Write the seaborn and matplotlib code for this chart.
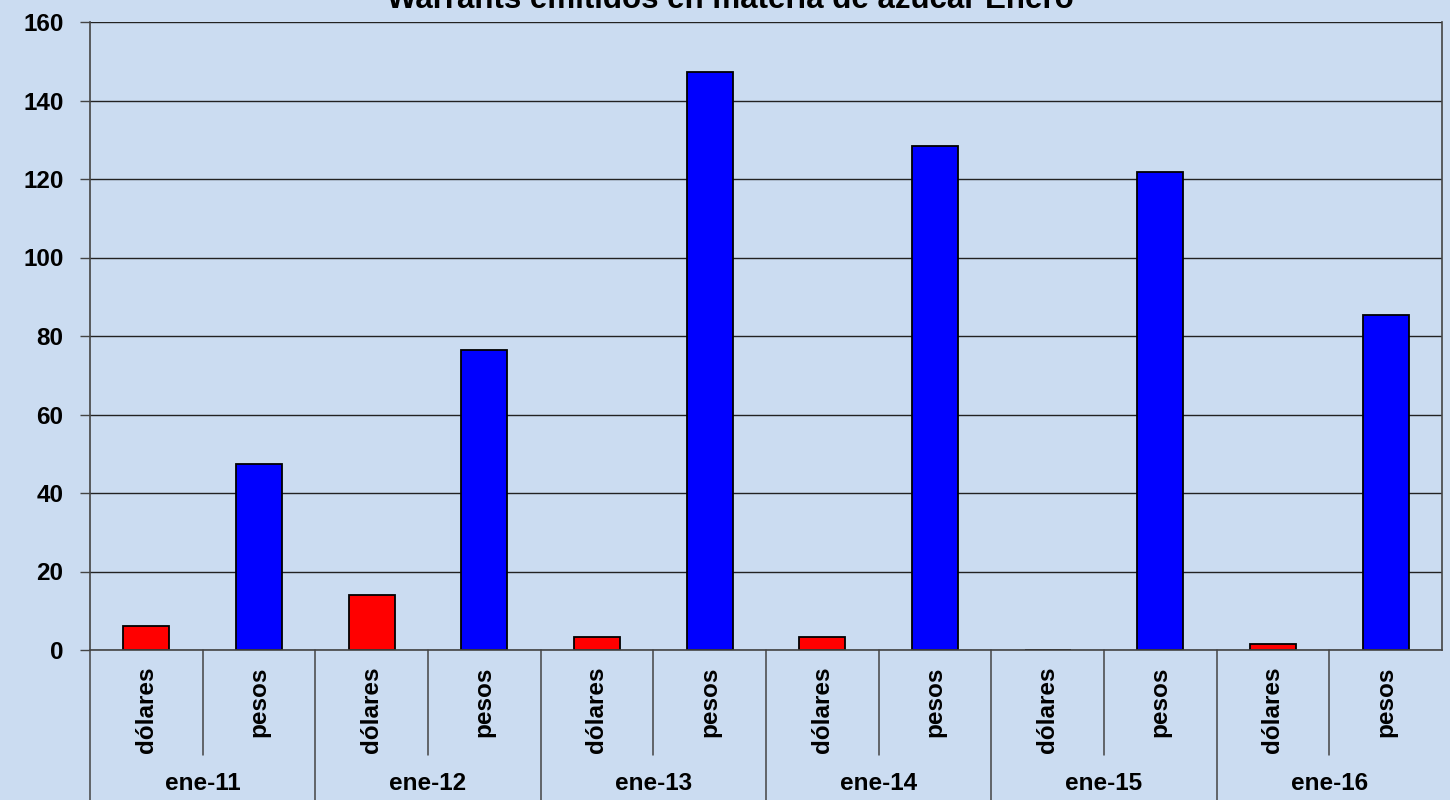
import pandas as pd
import numpy as np
import matplotlib
matplotlib.use('Agg')
import matplotlib.pyplot as plt
import seaborn as sns

# datos
meses = ['ene-11', 'ene-12', 'ene-13', 'ene-14', 'ene-15', 'ene-16']
monedas = ['dólares', 'pesos']
dolares = [6.0, 14.0, 3.3, 3.3, 0.0, 1.6]
pesos = [47.4, 76.4, 147.3, 128.4, 121.8, 85.4]
yticks = [0, 20, 40, 60, 80, 100, 120, 140, 160]
titulo = 'Warrants emitidos en materia de azúcar Enero'

fondo = '#cbdcf1'
colores = {'dólares': '#ff0000', 'pesos': '#0000ff'}

rows = []
for i, m in enumerate(meses):
    rows.append({'pos': m + '|dólares', 'mes': m, 'moneda': 'dólares', 'valor': dolares[i]})
    rows.append({'pos': m + '|pesos', 'mes': m, 'moneda': 'pesos', 'valor': pesos[i]})
df = pd.DataFrame(rows)

sns.set_style('white')
plt.rcParams['font.family'] = ['Liberation Sans', 'DejaVu Sans']
plt.rcParams['text.color'] = 'black'
plt.rcParams['xtick.color'] = 'black'
plt.rcParams['ytick.color'] = 'black'

fig = plt.figure(figsize=(14.5, 8), dpi=100, facecolor=fondo)
ax = fig.add_axes([90/1450, 150/800, 1352/1450, 628/800])
ax.set_facecolor(fondo)

sns.barplot(data=df, x='pos', y='valor', hue='moneda', palette=colores,
            dodge=False, width=0.41, edgecolor='black', linewidth=1.3,
            saturation=1, legend=False, ax=ax)

ax.set_ylim(0, 160)
ax.set_xlim(-0.5, len(df) - 0.5)
ax.set_yticks(yticks)
ax.set_yticklabels([str(v) for v in yticks], fontsize=17.5, fontweight='bold')
ax.yaxis.grid(True, color='#222222', linewidth=1.0)
ax.set_axisbelow(True)
ax.tick_params(axis='y', length=7, width=1, color='#444444', direction='out', left=True, pad=12)

ax.set_xticks(range(len(df)))
ax.set_xticklabels(df['moneda'], rotation=90, fontsize=17.5, fontweight='bold', va='top')
ax.tick_params(axis='x', length=0, pad=12)
ax.set_xlabel('')
ax.set_ylabel('')

ax.spines['top'].set_visible(False)
for s in ['left', 'right', 'bottom']:
    ax.spines[s].set_color('#444444')
    ax.spines[s].set_linewidth(1.2)

# lineas separadoras bajo el eje
trans = ax.get_xaxis_transform()
for k in range(len(df)):
    x = k - 0.5
    if k % 2 == 0:
        y0 = -150/628
    else:
        y0 = -105/628
    ax.plot([x, x], [0, y0], transform=trans, color='#444444', lw=1.1, clip_on=False)

for i, m in enumerate(meses):
    ax.text(2*i + 0.5, -133/628, m, transform=trans, ha='center', va='center',
            fontsize=17.5, fontweight='bold')

fig.text(730/1450, 1 - 8/800, titulo, ha='center', va='baseline',
         fontsize=22.5, fontweight='bold')

fig.savefig('out.png', dpi=100, facecolor=fondo)
